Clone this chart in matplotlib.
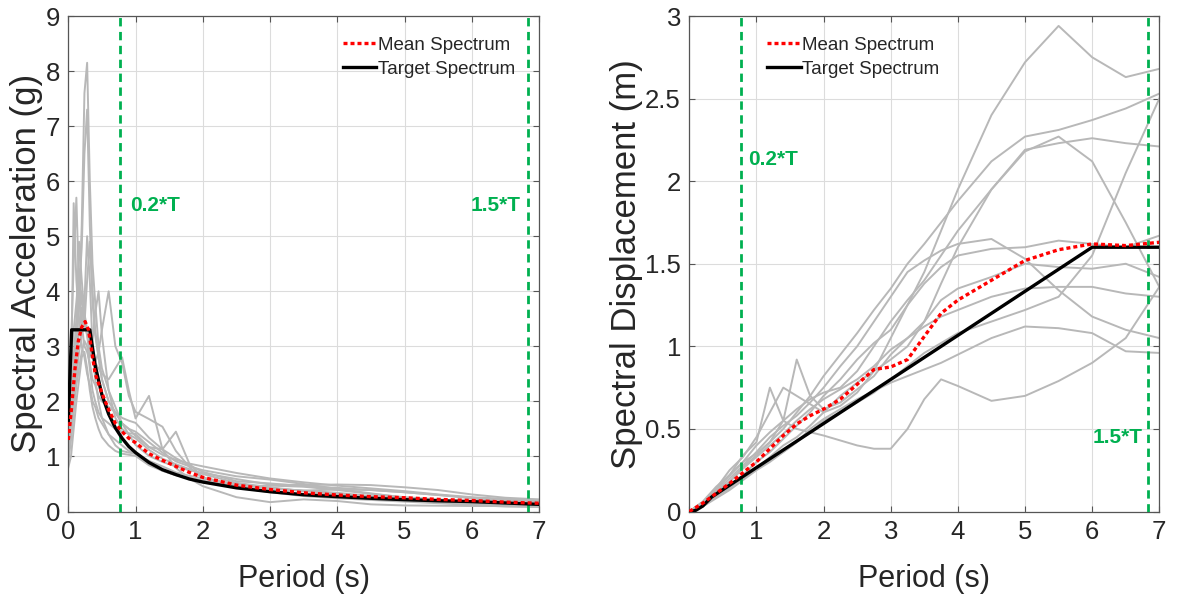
import matplotlib
matplotlib.use("Agg")
import matplotlib.pyplot as plt

# ---------------- data ----------------
# Spectral acceleration records (left panel)
T_sa = [0, 0.04, 0.08, 0.12, 0.16, 0.2, 0.24, 0.28, 0.32, 0.36, 0.4, 0.45, 0.5, 0.6, 0.7,
        0.8, 0.9, 1.0, 1.2, 1.4, 1.6, 1.8, 2.0, 2.5, 3.0, 3.5, 4.0, 4.5, 5.0, 5.5, 6.0, 6.5, 7.0]
sa_r1 = [1.2, 1.6, 2.5, 3.0, 3.8, 5.2, 7.6, 8.15, 6.0, 4.5, 3.8, 3.0, 2.6, 2.2, 1.9, 1.6, 1.4,
         1.21, 1.01, 0.90, 0.82, 0.75, 0.70, 0.59, 0.49, 0.48, 0.49, 0.48, 0.44, 0.39, 0.31, 0.25, 0.22]
sa_r2 = [1.0, 1.5, 2.2, 3.2, 4.0, 4.8, 6.5, 7.3, 5.2, 3.8, 3.2, 2.8, 2.4, 2.0, 1.8, 1.6, 1.5,
         1.37, 1.17, 1.03, 0.94, 0.87, 0.82, 0.70, 0.60, 0.53, 0.47, 0.42, 0.37, 0.31, 0.26, 0.23, 0.21]
sa_r3 = [1.3, 2.2, 5.6, 4.2, 3.5, 3.0, 2.8, 2.5, 2.3, 2.0, 1.9, 1.7, 1.6, 1.4, 1.3, 1.2, 1.1,
         1.05, 0.92, 0.82, 0.71, 0.65, 0.60, 0.50, 0.41, 0.38, 0.40, 0.39, 0.35, 0.30, 0.24, 0.17, 0.11]
sa_r4 = [1.6, 3.0, 4.5, 5.7, 4.0, 3.4, 3.0, 2.9, 2.7, 2.4, 2.3, 2.1, 2.0, 1.9, 1.8, 1.7, 1.65,
         1.61, 1.34, 1.13, 0.97, 0.84, 0.72, 0.55, 0.51, 0.46, 0.43, 0.39, 0.35, 0.30, 0.25, 0.21, 0.18]
sa_r5 = [1.1, 1.4, 1.9, 2.4, 2.9, 3.2, 3.8, 5.0, 4.2, 3.0, 2.4, 2.0, 1.7, 1.4, 1.2, 1.1, 1.07,
         1.05, 0.87, 0.74, 0.66, 0.60, 0.55, 0.43, 0.36, 0.32, 0.27, 0.23, 0.20, 0.17, 0.17, 0.20, 0.21]
sa_r6 = [1.4, 2.0, 2.8, 3.5, 4.9, 4.2, 3.6, 3.3, 3.0, 2.8, 2.7, 2.9, 3.3, 4.0, 3.0, 2.7, 2.1,
         1.81, 1.68, 1.54, 1.10, 0.81, 0.60, 0.46, 0.47, 0.45, 0.39, 0.32, 0.26, 0.22, 0.18, 0.15, 0.14]
sa_r7 = [0.9, 1.3, 1.8, 2.3, 2.6, 2.9, 3.1, 3.0, 2.6, 2.2, 2.0, 1.8, 1.7, 1.6, 1.5, 1.45, 1.42,
         1.41, 1.17, 1.13, 1.45, 0.87, 0.62, 0.48, 0.42, 0.38, 0.34, 0.28, 0.24, 0.20, 0.16, 0.14, 0.12]
sa_r8 = [1.2, 1.7, 2.6, 3.2, 3.7, 4.0, 3.6, 3.2, 2.8, 3.1, 3.6, 4.0, 3.2, 2.2, 1.7, 1.5, 1.4,
         1.33, 1.12, 0.96, 0.86, 0.77, 0.68, 0.52, 0.44, 0.37, 0.31, 0.26, 0.22, 0.18, 0.15, 0.13, 0.11]
sa_r9 = [1.5, 2.5, 3.3, 3.8, 4.4, 3.8, 3.4, 4.2, 4.9, 4.0, 3.3, 2.8, 2.4, 2.0, 1.8, 1.6, 1.5,
         1.45, 1.26, 1.07, 0.91, 0.82, 0.75, 0.64, 0.58, 0.50, 0.41, 0.33, 0.25, 0.18, 0.13, 0.10, 0.09]
sa_r10 = [0.8, 1.0, 1.5, 2.0, 2.4, 2.8, 2.9, 2.6, 2.2, 1.9, 1.7, 1.5, 1.35, 1.2, 1.1, 1.05, 1.03,
          1.01, 0.84, 0.74, 0.66, 0.62, 0.56, 0.44, 0.35, 0.28, 0.24, 0.21, 0.18, 0.15, 0.12, 0.09, 0.08]
sa_r11 = [1.0, 1.4, 2.0, 2.7, 3.3, 3.7, 3.4, 3.2, 3.0, 2.9, 2.7, 2.6, 2.5, 2.4, 2.6, 2.8, 2.2,
          1.69, 2.10, 1.13, 0.79, 0.60, 0.46, 0.26, 0.17, 0.22, 0.19, 0.13, 0.11, 0.105, 0.10, 0.10, 0.11]
sa_records = [sa_r1, sa_r2, sa_r3, sa_r4, sa_r5, sa_r6, sa_r7, sa_r8, sa_r9, sa_r10, sa_r11]

mean_sa_T = [0, 0.05, 0.1, 0.15, 0.2, 0.25, 0.3, 0.35, 0.4, 0.5, 0.6, 0.7, 0.8, 0.9, 1.0,
             1.2, 1.4, 1.6, 1.8, 2.0, 2.5, 3.0, 3.5, 4.0, 4.5, 5.0, 5.5, 6.0, 6.5, 7.0]
mean_sa = [1.3, 1.9, 2.6, 3.1, 3.35, 3.45, 3.3, 2.9, 2.5, 2.15, 1.85, 1.6, 1.45, 1.33, 1.25,
           1.05, 0.93, 0.82, 0.71, 0.62, 0.48, 0.40, 0.34, 0.30, 0.27, 0.25, 0.22, 0.20, 0.17, 0.15]

target_sa_T = [0, 0.05, 0.32, 0.4, 0.5, 0.6, 0.7, 0.8, 0.9, 1.0, 1.2, 1.4, 1.6, 1.8, 2.0,
               2.5, 3.0, 3.5, 4.0, 4.5, 5.0, 5.5, 6.0, 6.5, 7.0]
target_sa = [1.65, 3.3, 3.3, 2.65, 2.12, 1.77, 1.52, 1.33, 1.18, 1.07, 0.89, 0.76, 0.67, 0.59, 0.535,
             0.43, 0.36, 0.305, 0.27, 0.24, 0.215, 0.195, 0.18, 0.155, 0.13]

# Spectral displacement records (right panel)
T_sd = [0, 0.2, 0.4, 0.6, 0.8, 1.0, 1.2, 1.4, 1.6, 1.8, 2.0, 2.25, 2.5, 2.75, 3.0, 3.25,
        3.5, 3.75, 4.0, 4.5, 5.0, 5.5, 6.0, 6.5, 7.0]
sd_r1 = [0, 0.04, 0.10, 0.16, 0.22, 0.30, 0.36, 0.44, 0.52, 0.60, 0.70, 0.80, 0.92, 1.02, 1.10, 1.25,
         1.45, 1.70, 1.95, 2.40, 2.72, 2.94, 2.75, 2.63, 2.68]
sd_r2 = [0, 0.05, 0.12, 0.18, 0.27, 0.34, 0.42, 0.50, 0.60, 0.70, 0.82, 0.95, 1.08, 1.22, 1.35, 1.50,
         1.62, 1.75, 1.88, 2.12, 2.27, 2.31, 2.37, 2.44, 2.53]
sd_r3 = [0, 0.03, 0.09, 0.15, 0.20, 0.26, 0.33, 0.40, 0.45, 0.52, 0.60, 0.70, 0.78, 0.85, 0.92, 1.00,
         1.15, 1.38, 1.60, 1.95, 2.18, 2.27, 2.12, 1.75, 1.36]
sd_r4 = [0, 0.05, 0.13, 0.22, 0.30, 0.40, 0.48, 0.55, 0.62, 0.68, 0.72, 0.75, 0.85, 1.00, 1.15, 1.28,
         1.40, 1.55, 1.70, 1.95, 2.19, 2.23, 2.26, 2.23, 2.21]
sd_r5 = [0, 0.04, 0.09, 0.14, 0.21, 0.26, 0.31, 0.36, 0.42, 0.48, 0.55, 0.60, 0.66, 0.72, 0.80, 0.88,
         0.96, 1.02, 1.08, 1.15, 1.22, 1.30, 1.55, 2.05, 2.50]
sd_r6 = [0, 0.05, 0.14, 0.25, 0.33, 0.45, 0.60, 0.75, 0.70, 0.65, 0.60, 0.64, 0.72, 0.85, 1.05, 1.25,
         1.38, 1.48, 1.55, 1.59, 1.60, 1.64, 1.62, 1.60, 1.67]
sd_r7 = [0, 0.06, 0.15, 0.22, 0.30, 0.35, 0.42, 0.55, 0.92, 0.70, 0.62, 0.66, 0.74, 0.82, 0.95, 1.05,
         1.15, 1.28, 1.35, 1.42, 1.50, 1.48, 1.47, 1.50, 1.42]
sd_r8 = [0, 0.04, 0.10, 0.18, 0.26, 0.33, 0.40, 0.47, 0.55, 0.62, 0.68, 0.74, 0.80, 0.88, 0.98, 1.05,
         1.12, 1.18, 1.22, 1.30, 1.35, 1.36, 1.36, 1.32, 1.30]
sd_r9 = [0, 0.05, 0.12, 0.20, 0.28, 0.36, 0.45, 0.52, 0.58, 0.66, 0.75, 0.88, 1.00, 1.15, 1.30, 1.45,
         1.52, 1.58, 1.62, 1.65, 1.53, 1.34, 1.18, 1.10, 1.05]
sd_r10 = [0, 0.03, 0.08, 0.13, 0.19, 0.25, 0.30, 0.36, 0.42, 0.50, 0.56, 0.62, 0.68, 0.73, 0.78, 0.82,
          0.86, 0.90, 0.95, 1.05, 1.12, 1.11, 1.08, 0.97, 0.96]
sd_r11 = [0, 0.05, 0.14, 0.22, 0.34, 0.42, 0.75, 0.55, 0.50, 0.48, 0.46, 0.43, 0.40, 0.38, 0.38, 0.50,
          0.68, 0.80, 0.76, 0.67, 0.70, 0.79, 0.90, 1.05, 1.36]
sd_records = [sd_r1, sd_r2, sd_r3, sd_r4, sd_r5, sd_r6, sd_r7, sd_r8, sd_r9, sd_r10, sd_r11]

mean_sd = [0, 0.05, 0.11, 0.17, 0.235, 0.30, 0.38, 0.46, 0.53, 0.58, 0.62, 0.68, 0.77, 0.86, 0.875,
           0.92, 1.06, 1.20, 1.28, 1.40, 1.52, 1.585, 1.62, 1.61, 1.63]

target_sd_T = [0, 0.05, 0.1, 0.2, 0.3, 0.33, 6.0, 7.0]
target_sd = [0, 0.002, 0.008, 0.033, 0.074, 0.087, 1.6, 1.6]

lim_low = 0.77     # 0.2*T line
lim_high = 6.83    # 1.5*T line

# ---------------- styling ----------------
plt.rcParams['font.family'] = ['Liberation Sans', 'DejaVu Sans']
GREEN = '#00B050'
GRAY = '#b8b8b8'
TXT = '#262626'

fig = plt.figure(figsize=(11.78, 5.97), dpi=100)
W, H = 1178, 597
ax1 = fig.add_axes([68.3 / W, (H - 511.5) / H, 470.7 / W, 495.5 / H])
ax2 = fig.add_axes([689.3 / W, (H - 511.5) / H, 470.0 / W, 495.5 / H])


def style(ax, ymax, yticks, yticklabels, ylabel, ylab_x):
    ax.set_xlim(0, 7)
    ax.set_ylim(0, ymax)
    ax.set_xticks(range(8))
    ax.set_yticks(yticks)
    ax.set_yticklabels(yticklabels)
    ax.grid(True, color='#dcdcdc', linewidth=0.8)
    ax.set_axisbelow(True)
    ax.tick_params(direction='in', length=4, width=0.8, colors='#555555',
                   labelcolor=TXT, labelsize=18.5, top=True, right=True, pad=6)
    for s in ax.spines.values():
        s.set_color('#555555')
        s.set_linewidth(0.9)
    ax.set_xlabel('Period (s)', fontsize=22, color=TXT)
    ax.set_ylabel(ylabel, fontsize=25, color=TXT)
    ax.xaxis.set_label_coords(0.5, -0.105)
    ax.yaxis.set_label_coords(ylab_x, 0.5)


# Left panel
for rec in sa_records:
    ax1.plot(T_sa, rec, color=GRAY, lw=1.4, zorder=2)
ax1.axvline(lim_low, color=GREEN, lw=2.0, ls=(0, (3, 2)), zorder=3)
ax1.axvline(lim_high, color=GREEN, lw=2.0, ls=(0, (3, 2)), zorder=3)
ax1.plot(target_sa_T, target_sa, color='black', lw=2.4, zorder=4, label='Target Spectrum')
ax1.plot(mean_sa_T, mean_sa, color='red', lw=2.4, ls=(0, (1.2, 0.9)), zorder=5, label='Mean Spectrum')
style(ax1, 9, range(10), [str(i) for i in range(10)], 'Spectral Acceleration (g)', -0.053)
ax1.text(0.92, 5.55, '0.2*T', color=GREEN, fontsize=15, fontweight='bold', va='center', ha='left')
ax1.text(6.72, 5.55, '1.5*T', color=GREEN, fontsize=15, fontweight='bold', va='center', ha='right')

# Right panel
for rec in sd_records:
    ax2.plot(T_sd, rec, color=GRAY, lw=1.4, zorder=2)
ax2.axvline(lim_low, color=GREEN, lw=2.0, ls=(0, (3, 2)), zorder=3)
ax2.axvline(lim_high, color=GREEN, lw=2.0, ls=(0, (3, 2)), zorder=3)
ax2.plot(target_sd_T, target_sd, color='black', lw=2.4, zorder=4, label='Target Spectrum')
ax2.plot(T_sd, mean_sd, color='red', lw=2.4, ls=(0, (1.2, 0.9)), zorder=5, label='Mean Spectrum')
style(ax2, 3, [0, 0.5, 1, 1.5, 2, 2.5, 3], ['0', '0.5', '1', '1.5', '2', '2.5', '3'],
      'Spectral Displacement (m)', -0.099)
ax2.text(0.88, 2.13, '0.2*T', color=GREEN, fontsize=15, fontweight='bold', va='center', ha='left')
ax2.text(6.75, 0.45, '1.5*T', color=GREEN, fontsize=15, fontweight='bold', va='center', ha='right')

for ax, x0 in ((ax1, 0.583), (ax2, 0.165)):
    h, l = ax.get_legend_handles_labels()
    order = [l.index('Mean Spectrum'), l.index('Target Spectrum')]
    ax.legend([h[i] for i in order], [l[i] for i in order], loc='upper left',
              bbox_to_anchor=(x0, 0.958), frameon=False, fontsize=13.5,
              handlelength=1.8, handletextpad=0.1, labelspacing=0.35, borderpad=0,
              borderaxespad=0, labelcolor=TXT)

fig.savefig('out.png', dpi=100, facecolor='white')
